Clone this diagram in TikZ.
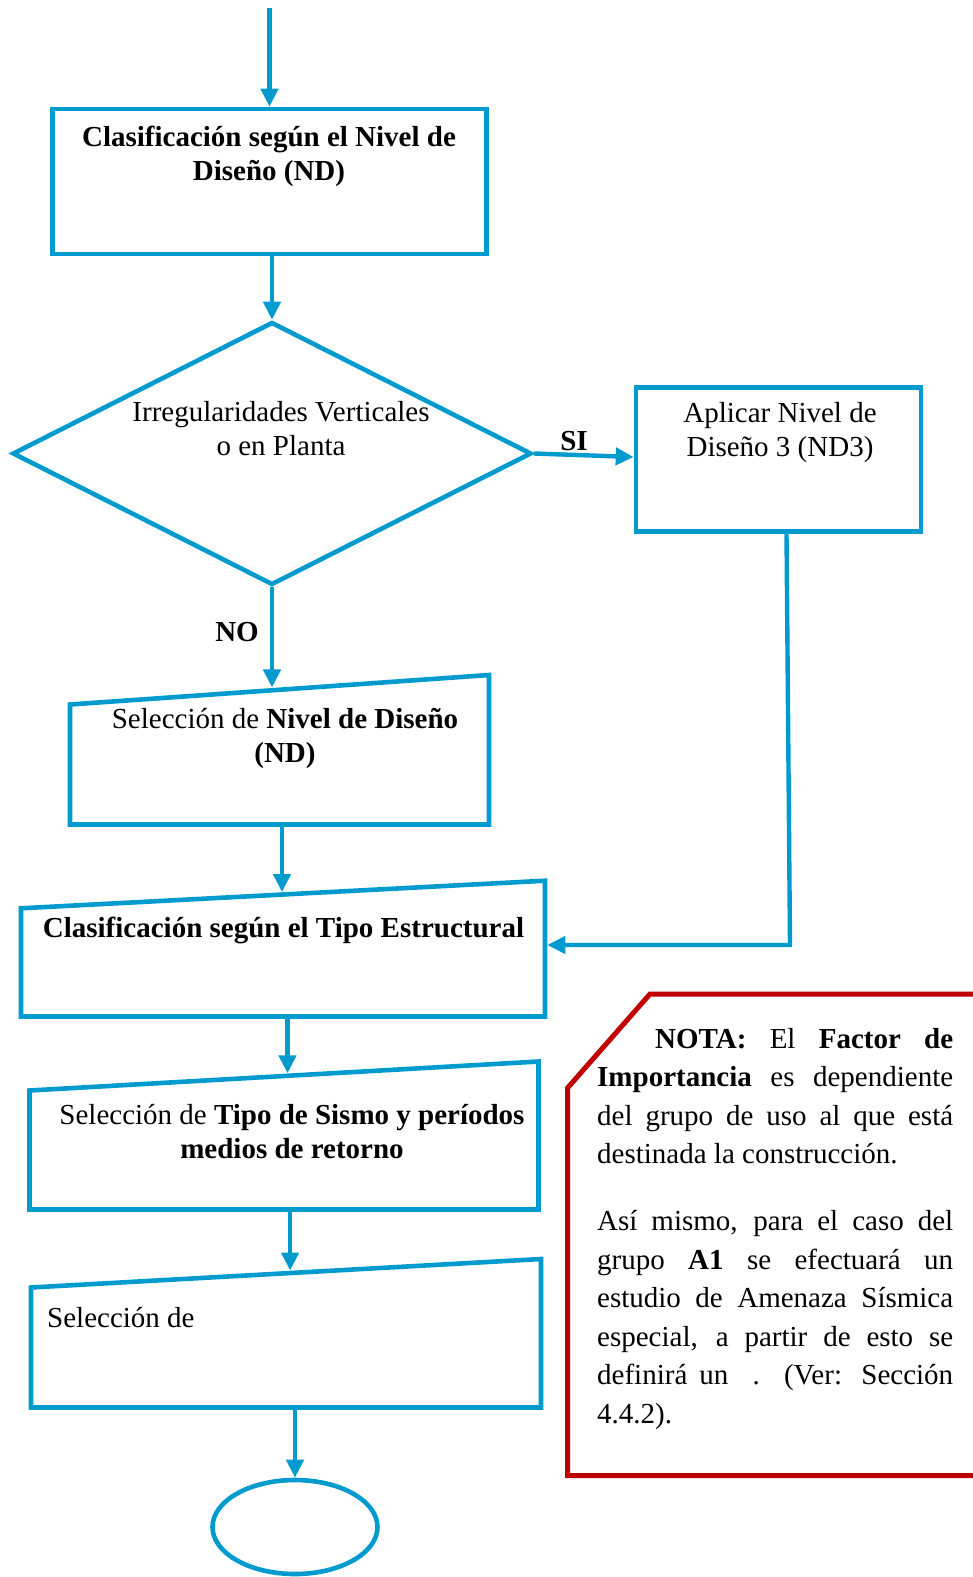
\documentclass[tikz,border=0pt]{standalone}
\usepackage{fontspec}
\setmainfont{Liberation Serif}
\usetikzlibrary{arrows.meta,shapes.geometric,calc}
\definecolor{flowblue}{RGB}{0,155,206}
\definecolor{notered}{RGB}{192,0,0}
\begin{document}
\begin{tikzpicture}[x=1pt,y=-1pt,
  shapeline/.style={draw=flowblue,line width=4.6pt},
  arr/.style={draw=flowblue,line width=4.4pt,-{Triangle[length=18pt,width=17pt]}},
  lbl/.style={font=\fontsize{29}{34}\selectfont,align=center,inner sep=0pt,anchor=base},
  lblb/.style={lbl,font=\fontsize{29}{34}\selectfont\bfseries},
  notebox/.style={draw=notered,line width=5pt},
]
\useasboundingbox (0,0) rectangle (973,1577);

% process boxes
\node[shapeline,minimum width=434pt,minimum height=145pt,inner sep=0pt] (b1) at (269.5,181.5) {};
\node[shapeline,minimum width=285pt,minimum height=144pt,inner sep=0pt] (nd3) at (778.5,459.5) {};
\node[shapeline,diamond,minimum width=519pt,minimum height=263pt,inner sep=0pt] (dia) at (272,453.5) {};

% manual-input shapes (slanted top edge)
\draw[shapeline] (70,704.5) coordinate (n1) -- (489,675) coordinate (n2)
  -- (489,824.5) coordinate (n3) -- (70,824.5) coordinate (n4) -- cycle;
\draw[shapeline] (21,908.3) coordinate (t1) -- (545,880.7) coordinate (t2)
  -- (545,1016.5) coordinate (t3) -- (21,1016.5) coordinate (t4) -- cycle;
\draw[shapeline] (29.5,1090.5) coordinate (s1) -- (538.5,1061.5) coordinate (s2)
  -- (538.5,1209.5) coordinate (s3) -- (29.5,1209.5) coordinate (s4) -- cycle;
\draw[shapeline] (31,1287.5) coordinate (r1) -- (541,1259) coordinate (r2)
  -- (541,1407.5) coordinate (r3) -- (31,1407.5) coordinate (r4) -- cycle;

% terminator
\node[shapeline,ellipse,minimum width=165pt,minimum height=94pt,inner sep=0pt] (fin) at (295,1527) {};

% texts (multi-line nodes are placed by the baseline of their last line)
\node[lblb] (b1t) at (269,180) {Clasificación según el Nivel de\\Diseño (ND)};
\node[lbl] (diat) at (281,455) {Irregularidades Verticales\\o en Planta};
\node[lbl] (nd3t) at (780,456) {Aplicar Nivel de\\Diseño 3 (ND3)};
\node[lbl] (b3t) at (285,762) {Selección de \textbf{Nivel de Diseño}\\\textbf{(ND)}};
\node[lblb] (tipot) at (283.5,937) {Clasificación según el Tipo Estructural};
\node[lbl] (b4t) at (292,1158) {Selección de \textbf{Tipo de Sismo y períodos}\\\textbf{medios de retorno}};
\node[lbl,anchor=base west] (b5t) at (47,1327) {Selección de};
\node[lblb] (si) at (574,450) {SI};
\node[lblb] (no) at (237,641) {NO};

% connectors
\coordinate (start) at (269.5,8);
\draw[arr] (start) -- (b1.north);
\draw[arr] (b1.south -| dia.north) -- (dia.north);
\draw[arr] (dia.east) -- ([yshift=2.5pt]nd3.west);

\coordinate (n0) at ($(n1)!(dia.south)!(n2)+(0,-2.3)$);
\draw[arr] (dia.south) -- (dia.south |- n0);

\coordinate (n5) at ($(n4)!0.506!(n3)$);
\coordinate (t0) at ($(t1)!(n5)!(t2)+(0,-2.3)$);
\draw[arr] (n5) -- (n5 |- t0);

\coordinate (cnr) at (790,945);
\coordinate (tin) at ($(t2 |- cnr)+(2.3,0)$);
\draw[arr] ([xshift=8pt]nd3.south) -- (cnr) -- (tin);

\coordinate (t5) at ($(t4)!0.5086!(t3)$);
\coordinate (s0) at ($(s1)!(t5)!(s2)+(0,-2.3)$);
\draw[arr] (t5) -- (t5 |- s0);

\coordinate (s5) at ($(s4)!0.512!(s3)$);
\coordinate (r0) at ($(r1)!(s5)!(r2)+(0,-2.3)$);
\draw[arr] (s5) -- (s5 |- r0);

\draw[arr] (fin.north |- r4) -- (fin.north);

% note
\draw[notebox] (650,994) -- (1000,994) -- (1000,1475.5) -- (567.5,1475.5) -- (567.5,1088) -- cycle;
\node[anchor=base west,text width=356pt,align=justify,inner sep=0pt,
      font=\fontsize{29}{38.5}\selectfont] (nota) at (597,1048)
{\hspace*{58pt}\textbf{NOTA:} El \textbf{Factor de}\linebreak
\textbf{Importancia} es dependiente\linebreak
del grupo de uso al que está\linebreak
destinada la construcción.\par\vspace{28.5pt}
Así mismo, para el caso del\linebreak
grupo \textbf{A1} se efectuará un\linebreak
estudio de Amenaza Sísmica\linebreak
especial, a partir de esto se\linebreak
definirá un \ . (Ver: Sección\linebreak
4.4.2).};
\end{tikzpicture}
\end{document}
